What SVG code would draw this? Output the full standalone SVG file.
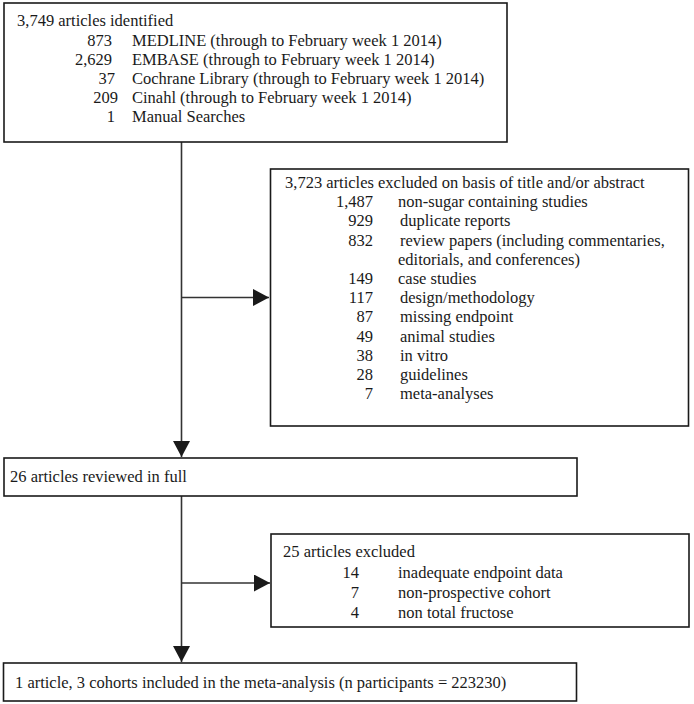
<svg xmlns="http://www.w3.org/2000/svg" width="694" height="704" viewBox="0 0 694 704">
<style>
.box{fill:#fff;stroke:#1a1a1a;stroke-width:1.6}
.t{font-family:"Liberation Serif","Times New Roman",serif;font-size:16.5px;fill:#1a1a1a}
.n{text-anchor:end}
.c{stroke:#333;stroke-width:1.6;fill:none}
</style>
<defs>
<marker id="ah" markerWidth="16" markerHeight="17" refX="16" refY="8.5" orient="auto" markerUnits="userSpaceOnUse">
<path d="M0,0 L16,8.5 L0,17 Z" fill="#1a1a1a"/>
</marker>
</defs>
<rect width="694" height="704" fill="#fff"/>
<g id="connectors">
<line class="c" x1="181.5" y1="142" x2="181.5" y2="457" marker-end="url(#ah)"/>
<line class="c" x1="181.5" y1="297.5" x2="269" y2="297.5" marker-end="url(#ah)"/>
<line class="c" x1="181.5" y1="496" x2="181.5" y2="662" marker-end="url(#ah)"/>
<line class="c" x1="181.5" y1="583" x2="270" y2="583" marker-end="url(#ah)"/>
</g>
<g id="identified">
<rect class="box" x="4" y="3" width="503" height="139"/>
<text class="t" x="17" y="26">3,749 articles identified</text>
<text class="t n" x="112" y="46">873</text><text class="t" x="132" y="46">MEDLINE (through to February week 1 2014)</text>
<text class="t n" x="112" y="65">2,629</text><text class="t" x="132" y="65">EMBASE (through to February week 1 2014)</text>
<text class="t n" x="115" y="84">37</text><text class="t" x="132" y="84">Cochrane Library (through to February week 1 2014)</text>
<text class="t n" x="118" y="103">209</text><text class="t" x="132" y="103">Cinahl (through to February week 1 2014)</text>
<text class="t n" x="115" y="122">1</text><text class="t" x="132" y="122">Manual Searches</text>
</g>
<g id="excluded1">
<rect class="box" x="270.5" y="169" width="418" height="257"/>
<text class="t" x="285" y="188">3,723 articles excluded on basis of title and/or abstract</text>
<text class="t n" x="373" y="207">1,487</text><text class="t" x="398" y="207">non-sugar containing studies</text>
<text class="t n" x="373" y="226">929</text><text class="t" x="400" y="226">duplicate reports</text>
<text class="t n" x="373" y="245.5">832</text><text class="t" x="400" y="245.5">review papers (including commentaries,</text>
<text class="t" x="398" y="264.5">editorials, and conferences)</text>
<text class="t n" x="373" y="284">149</text><text class="t" x="398" y="284">case studies</text>
<text class="t n" x="373" y="303">117</text><text class="t" x="400" y="303">design/methodology</text>
<text class="t n" x="373" y="322">87</text><text class="t" x="400" y="322">missing endpoint</text>
<text class="t n" x="373" y="341.5">49</text><text class="t" x="400" y="341.5">animal studies</text>
<text class="t n" x="373" y="360.5">38</text><text class="t" x="400" y="360.5">in vitro</text>
<text class="t n" x="373" y="380">28</text><text class="t" x="400" y="380">guidelines</text>
<text class="t n" x="373" y="399">7</text><text class="t" x="400" y="399">meta-analyses</text>
</g>
<g id="reviewed">
<rect class="box" x="4" y="458" width="573" height="38"/>
<text class="t" x="10" y="482">26 articles reviewed in full</text>
</g>
<g id="excluded2">
<rect class="box" x="271" y="534" width="418" height="93"/>
<text class="t" x="283" y="557">25 articles excluded</text>
<text class="t n" x="359" y="578">14</text><text class="t" x="398" y="578">inadequate endpoint data</text>
<text class="t n" x="359" y="598">7</text><text class="t" x="398" y="598">non-prospective cohort</text>
<text class="t n" x="359" y="618">4</text><text class="t" x="398" y="618">non total fructose</text>
</g>
<g id="included">
<rect class="box" x="3.5" y="663" width="573" height="38"/>
<text class="t" x="15" y="688">1 article, 3 cohorts included in the meta-analysis (n participants = 223230)</text>
</g>
</svg>
